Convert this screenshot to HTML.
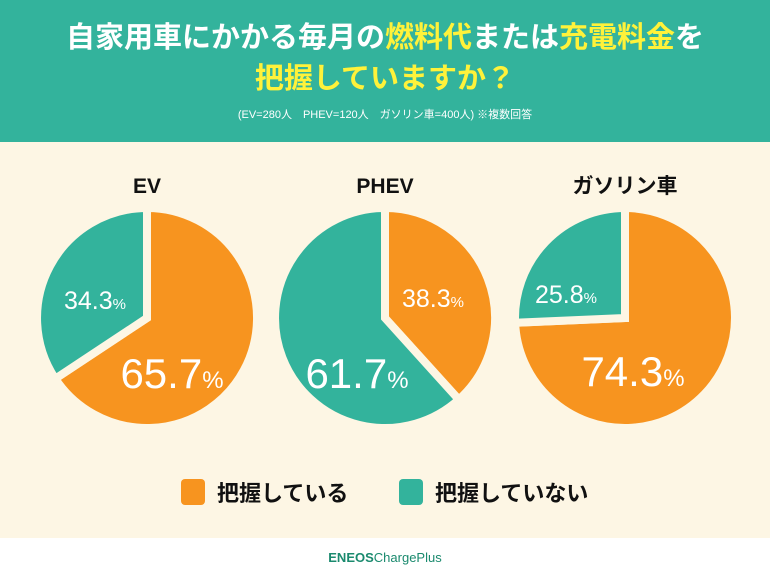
<!DOCTYPE html>
<html><head><meta charset="utf-8"><style>
body{margin:0;width:770px;height:578px;overflow:hidden;font-family:"Liberation Sans","Noto Sans CJK JP",sans-serif;background:#fff}
.hd{position:absolute;left:0;top:0;width:770px;height:142px;background:#33b39c;text-align:center;color:#fff;font-weight:bold}
.y{color:#fff23a}
.bg{position:absolute;left:0;top:142px;width:770px;height:396px;background:#fdf6e4}
</style></head><body>
<div class="hd">
<div style="position:absolute;top:18px;width:770px;font-size:29px;line-height:40px">自家用車にかかる毎月の<span class="y">燃料代</span>または<span class="y">充電料金</span>を</div>
<div style="position:absolute;top:59px;width:770px;font-size:29px;line-height:40px" class="y">把握していますか？</div>
<div style="position:absolute;top:106px;width:770px;font-size:11px;font-weight:normal">(EV=280人　PHEV=120人　ガソリン車=400人) ※複数回答</div>
</div>
<div class="bg"></div>
<svg width="770" height="578" style="position:absolute;left:0;top:0" font-family="Liberation Sans, Noto Sans CJK JP, sans-serif">
<g font-weight="bold" font-size="21" text-anchor="middle" fill="#111">
<text x="147" y="193">EV</text><text x="385" y="193">PHEV</text><text x="625" y="193">ガソリン車</text></g>
<g stroke="#fdf6e4" stroke-width="8" stroke-linejoin="miter">
<path d="M147,318 L147,208 A110,110 0 1 1 55.3,378.7 Z" fill="#f7941f"/>
<path d="M147,318 L55.3,378.7 A110,110 0 0 1 147,208 Z" fill="#33b39c"/>
<path d="M385,318 L385,208 A110,110 0 0 1 458.8,399.6 Z" fill="#f7941f"/>
<path d="M385,318 L458.8,399.6 A110,110 0 1 1 385,208 Z" fill="#33b39c"/>
<path d="M625,318 L625,208 A110,110 0 1 1 515.1,322.8 Z" fill="#f7941f"/>
<path d="M625,318 L515.1,322.8 A110,110 0 0 1 625,208 Z" fill="#33b39c"/>
</g>
<g fill="#fff" text-anchor="middle">
<text x="95" y="309" font-size="25">34.3<tspan font-size="15">%</tspan></text>
<text x="172" y="388" font-size="42">65.7<tspan font-size="24">%</tspan></text>
<text x="433" y="307" font-size="25">38.3<tspan font-size="15">%</tspan></text>
<text x="357" y="388" font-size="42">61.7<tspan font-size="24">%</tspan></text>
<text x="566" y="303" font-size="25">25.8<tspan font-size="15">%</tspan></text>
<text x="633" y="386" font-size="42">74.3<tspan font-size="24">%</tspan></text>
</g>
<rect x="181" y="479" width="24" height="26" rx="4" fill="#f7941f"/>
<text x="217" y="501" font-size="22" font-weight="bold" fill="#111">把握している</text>
<rect x="399" y="479" width="24" height="26" rx="4" fill="#33b39c"/>
<text x="435" y="501" font-size="22" font-weight="bold" fill="#111">把握していない</text>
<text x="385" y="562" font-size="13" text-anchor="middle" fill="#1a8a6e" font-weight="bold">ENEOS<tspan font-weight="normal">ChargePlus</tspan></text>
</svg>
</body></html>
